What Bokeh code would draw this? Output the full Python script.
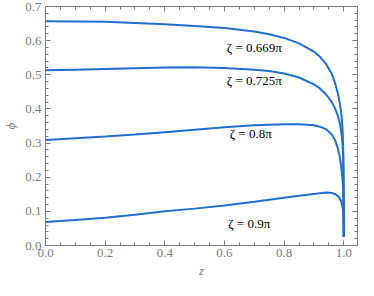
from bokeh.plotting import figure
from bokeh.models import LinearAxis, Range1d, FixedTicker, Label
from bokeh.embed import file_html
from bokeh.resources import INLINE

z = [0.0, 0.1, 0.2, 0.3, 0.4, 0.5, 0.6, 0.7, 0.75, 0.8, 0.85, 0.9, 0.92, 0.94, 0.96, 0.97, 0.98, 0.985, 0.99, 0.993, 0.996, 0.998, 0.999, 0.9996, 1.0]
phi_669 = [0.657, 0.656, 0.655, 0.652, 0.648, 0.643, 0.637, 0.627, 0.619, 0.608, 0.592, 0.568, 0.553, 0.532, 0.502, 0.478, 0.446, 0.424, 0.398, 0.375, 0.340, 0.290, 0.230, 0.160, 0.025]
phi_725 = [0.513, 0.515, 0.517, 0.519, 0.521, 0.522, 0.520, 0.515, 0.511, 0.504, 0.492, 0.472, 0.460, 0.443, 0.420, 0.403, 0.380, 0.364, 0.342, 0.324, 0.296, 0.255, 0.205, 0.140, 0.025]
phi_800 = [0.309, 0.314, 0.319, 0.325, 0.332, 0.339, 0.346, 0.352, 0.354, 0.355, 0.355, 0.352, 0.348, 0.341, 0.325, 0.310, 0.285, 0.266, 0.240, 0.218, 0.190, 0.160, 0.128, 0.090, 0.025]
phi_900 = [0.069, 0.075, 0.081, 0.090, 0.100, 0.108, 0.117, 0.128, 0.134, 0.140, 0.146, 0.151, 0.153, 0.155, 0.154, 0.151, 0.145, 0.140, 0.132, 0.124, 0.112, 0.098, 0.082, 0.062, 0.025]

series = [phi_669, phi_725, phi_800, phi_900]
labels = ["ζ = 0.669π", "ζ = 0.725π", "ζ = 0.8π", "ζ = 0.9π"]
label_z = [0.700, 0.700, 0.688, 0.683]
label_phi = [0.579, 0.483, 0.329, 0.064]

x_ticks = [0.0, 0.2, 0.4, 0.6, 0.8, 1.0]
y_ticks = [0.0, 0.1, 0.2, 0.3, 0.4, 0.5, 0.6, 0.7]
x_minor = [i * 0.05 for i in range(22)]
y_minor = [i * 0.02 for i in range(36)]

LINE = "#1f6fcf"
GRAY = "#7a7a7a"
FONT = "'Liberation Serif', serif"

p = figure(width=358, height=280, output_backend="svg", toolbar_location=None,
           x_range=Range1d(0, 1.046), y_range=Range1d(0, 0.7),
           min_border_left=31, min_border_right=1, min_border_top=6, min_border_bottom=34)
p.grid.visible = False
p.outline_line_color = GRAY
p.outline_line_width = 1
p.background_fill_color = "white"

for ys in series:
    p.line(z, ys, line_color=LINE, line_width=2)

for t, lz, lp in zip(labels, label_z, label_phi):
    p.add_layout(Label(x=lz, y=lp, text=t, text_align="center", text_baseline="middle",
                       text_font=FONT, text_font_size="13px", text_color="black"))

def style(ax, ticks, minor, show_labels):
    ax.ticker = FixedTicker(ticks=ticks, minor_ticks=minor)
    ax.axis_line_color = GRAY
    ax.major_tick_line_color = GRAY
    ax.minor_tick_line_color = GRAY
    ax.major_tick_in = 5
    ax.major_tick_out = 0
    ax.minor_tick_in = 3
    ax.minor_tick_out = 0
    ax.major_label_text_font = FONT
    ax.major_label_text_font_size = "13px"
    ax.major_label_text_color = GRAY
    ax.axis_label_text_font = FONT
    ax.axis_label_text_font_style = "italic"
    ax.axis_label_text_color = GRAY
    ax.axis_label_text_font_size = "13px"
    if not show_labels:
        ax.major_label_text_alpha = 0
        ax.major_label_standoff = 0

xa = p.xaxis[0]
style(xa, x_ticks, x_minor, True)
xa.major_label_overrides = {0.0: "0.0", 1.0: "1.0"}
xa.axis_label = "z"
xa.major_label_standoff = 3
xa.axis_label_standoff = 3

ya = p.yaxis[0]
style(ya, y_ticks, y_minor, True)
ya.major_label_overrides = {0.0: "0.0"}
ya.axis_label = "ϕ"
ya.major_label_standoff = 4
ya.axis_label_standoff = 4

top = LinearAxis()
style(top, x_ticks, x_minor, False)
top.major_label_overrides = {t: "" for t in x_ticks}
p.add_layout(top, "above")
right = LinearAxis()
style(right, y_ticks, y_minor, False)
right.major_label_overrides = {t: "" for t in y_ticks}
p.add_layout(right, "right")

open("out.html", "w").write(file_html(p, INLINE))
